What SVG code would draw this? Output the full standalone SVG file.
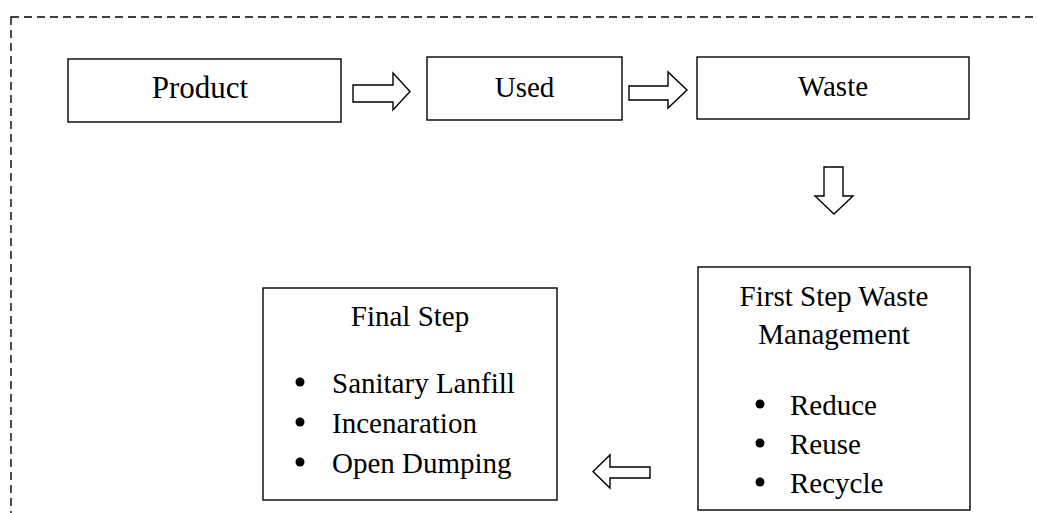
<svg xmlns="http://www.w3.org/2000/svg" width="1038" height="513" viewBox="0 0 1038 513">
<style>
.box{fill:#fff;stroke:#000;stroke-width:1.4}
.arr{fill:#fff;stroke:#000;stroke-width:1.4;stroke-linejoin:miter}
.frame{fill:none;stroke:#000;stroke-width:1.4;stroke-dasharray:8 5}
.dot{fill:#000}
text{font-family:"Liberation Serif","Times New Roman",serif;font-size:29px;fill:#000}
.c{text-anchor:middle}
</style>
<rect class="frame" x="11" y="17" width="1060" height="530"/>
<g id="product"><rect class="box" x="68" y="59" width="273" height="63"/><text class="c" x="200" y="98" style="font-size:31px">Product</text></g>
<g id="used"><rect class="box" x="427" y="57" width="195" height="63"/><text class="c" x="524.5" y="97">Used</text></g>
<g id="waste"><rect class="box" x="697" y="57" width="272" height="62"/><text class="c" x="833" y="96">Waste</text></g>
<g id="first-step"><rect class="box" x="698" y="267" width="272" height="243"/>
<text class="c" x="834" y="306">First Step Waste</text>
<text class="c" x="834" y="344">Management</text>
<circle class="dot" cx="760" cy="404" r="4.5"/><text x="790" y="415">Reduce</text>
<circle class="dot" cx="760" cy="443" r="4.5"/><text x="790" y="454">Reuse</text>
<circle class="dot" cx="760" cy="482" r="4.5"/><text x="790" y="493">Recycle</text>
</g>
<g id="final-step"><rect class="box" x="263" y="288" width="294" height="212"/>
<text class="c" x="410" y="326">Final Step</text>
<circle class="dot" cx="300" cy="382" r="4.5"/><text x="332" y="393">Sanitary Lanfill</text>
<circle class="dot" cx="300" cy="422" r="4.5"/><text x="332" y="433">Incenaration</text>
<circle class="dot" cx="300" cy="462" r="4.5"/><text x="332" y="473">Open Dumping</text>
</g>
<g id="connectors">
<polygon class="arr" points="353,85 393,85 393,73 410,91.5 393,110 393,102 353,102"/>
<polygon class="arr" points="629,86 668,86 668,72 687,90 668,108 668,100 629,100"/>
<polygon class="arr" points="824,167 843,167 843,196 853,196 834,214 815,196 824,196"/>
<polygon class="arr" points="650,467 610,467 610,455 593,471.5 610,488 610,478 650,478"/>
</g>
</svg>
